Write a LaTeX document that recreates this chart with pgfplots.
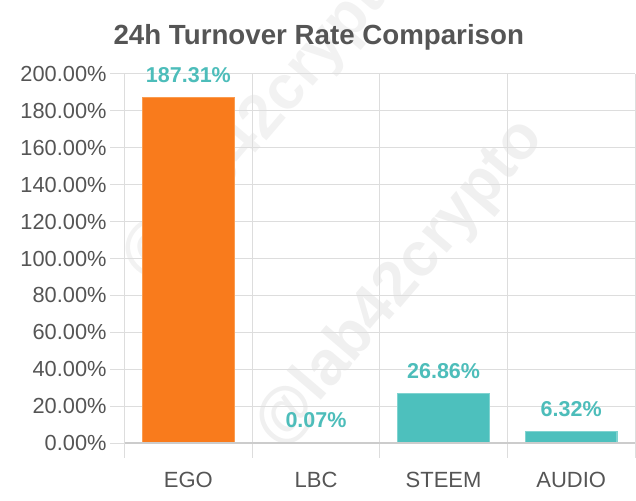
\documentclass[border=0pt]{standalone}
\usepackage{pgfplots}
\pgfplotsset{compat=1.18}
\usepackage{fontspec}
\setmainfont{Liberation Sans}
\definecolor{egoorange}{HTML}{F97B1C}
\definecolor{egoborder}{HTML}{FA9C50}
\definecolor{teal1}{HTML}{4DC0BD}
\definecolor{tealborder}{HTML}{80D3D0}
\definecolor{labteal}{HTML}{4DBDBA}
\definecolor{txtgray}{HTML}{555555}
\definecolor{gridgray}{HTML}{DDDDDD}
\definecolor{axisgray}{HTML}{CCCCCC}
\begin{document}
\begin{tikzpicture}
\node[rotate=49.5, text=black!6, font=\fontsize{62}{62}\selectfont\bfseries] at (275.4pt,159pt) {@lab42crypto};
\node[rotate=49.5, text=black!5, font=\fontsize{62}{62}\selectfont\bfseries] at (141.4pt,326pt) {@lab42crypto};
\begin{axis}[
  scale only axis,
  width=510.4pt, height=369pt,
  xmin=-0.5, xmax=3.5,
  ymin=0, ymax=200,
  axis line style={draw=none},
  /pgf/number format/assume math mode=true,
  ybar, bar width=91.5pt,
  xtick={-0.5,0.5,1.5,2.5,3.5},
  xticklabels={},
  xmajorgrids=true,
  ytick={0,20,...,200},
  yticklabels={0.00\%,20.00\%,40.00\%,60.00\%,80.00\%,100.00\%,120.00\%,140.00\%,160.00\%,180.00\%,200.00\%},
  ymajorgrids=true,
  grid style={gridgray, line width=1pt},
  tick align=outside,
  xtick pos=bottom, ytick pos=left,
  tick style={gridgray, line width=1pt},
  major tick length=14.5pt,
  yticklabel style={font=\fontsize{21.8}{22}\selectfont, text=txtgray, anchor=east},
  extra x ticks={0,1,2,3},
  extra x tick labels={EGO,LBC,STEEM,AUDIO},
  extra x tick style={grid=none, tick style={draw=none},
     tick label style={font=\fontsize{22}{22}\selectfont, text=txtgray, anchor=base, yshift=-29.5pt}},
  nodes near coords={\pgfmathprintnumber[fixed,fixed zerofill,precision=2,assume math mode=true]{\pgfplotspointmeta}\%},
  every node near coord/.append style={font=\fontsize{21.5}{22}\selectfont\bfseries, text=labteal, anchor=base, yshift=15pt},
  clip=false,
]
\addplot[fill=egoorange, draw=egoborder, line width=1.2pt, bar shift=0pt] coordinates {(0,187.31)};
\addplot[fill=teal1, draw=tealborder, line width=1.2pt, bar shift=0pt] coordinates {(1,0.07) (2,26.86) (3,6.32)};
\draw[axisgray, line width=1.2pt] (axis cs:-0.5,0) -- (axis cs:3.5,0);
\end{axis}
\node[anchor=base west, text=txtgray, font=\fontsize{27.7}{28}\selectfont\bfseries] at (-14.6pt,398pt) {24h Turnover Rate Comparison};
\pgfresetboundingbox
\path[use as bounding box] (-124.6pt,-57pt) rectangle (511.4pt,443pt);
\end{tikzpicture}
\end{document}
